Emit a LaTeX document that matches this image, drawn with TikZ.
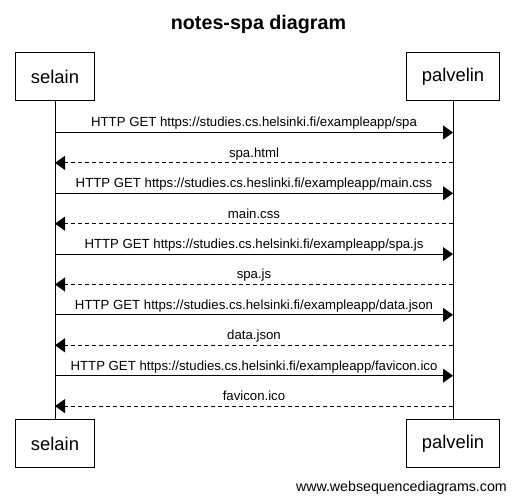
\documentclass[tikz,border=0pt]{standalone}
\usepackage{fontspec}
\setmainfont{Liberation Sans}
\usetikzlibrary{positioning,arrows.meta}

\begin{document}
\begin{tikzpicture}[x=1pt,y=-1pt,
  every node/.style={font=\fontsize{13.2}{15}\selectfont},
  actor/.style={draw,fill=white,line width=1pt,minimum height=48pt,inner xsep=15pt,font=\fontsize{18.4}{22}\selectfont},
  life/.style={line width=1pt},
  req/.style={-{Triangle[length=10pt,width=14pt]},line width=1pt},
  rep/.style={req,dash pattern=on 4pt off 3pt},
  msg/.style={midway,above,inner sep=2pt,text depth=3pt}
]
\useasboundingbox (0,0) rectangle (515,502);
\node[font=\fontsize{19.7}{23}\selectfont\bfseries] (title) at (258.5,24) {notes-spa diagram};
% osapuolet
\node[actor] (st) at (55,77) {selain};
\node[actor] (pt) at (453,77) {palvelin};
\node[actor,below=318pt of st] (sb) {selain};
\node[actor,below=318pt of pt] (pb) {palvelin};
\draw[life] (st) -- (sb);
\draw[life] (pt) -- (pb);
% viestien kohdat elamanviivoilla
\foreach \i/\y in {1/132.5,2/162.9,3/193.3,4/223.7,5/254.1,6/284.5,7/314.9,8/345.3,9/375.7,10/406.1}
  {\coordinate (s\i) at (55,\y); \coordinate (p\i) at (453,\y);}
\draw[req] (s1) -- node[msg] {HTTP GET https://studies.cs.helsinki.fi/exampleapp/spa} (p1);
\draw[rep] (p2) -- node[msg] {spa.html} (s2);
\draw[req] (s3) -- node[msg] {HTTP GET https://studies.cs.heslinki.fi/exampleapp/main.css} (p3);
\draw[rep] (p4) -- node[msg] {main.css} (s4);
\draw[req] (s5) -- node[msg] {HTTP GET https://studies.cs.helsinki.fi/exampleapp/spa.js} (p5);
\draw[rep] (p6) -- node[msg] {spa.js} (s6);
\draw[req] (s7) -- node[msg] {HTTP GET https://studies.cs.helsinki.fi/exampleapp/data.json} (p7);
\draw[rep] (p8) -- node[msg] {data.json} (s8);
\draw[req] (s9) -- node[msg] {HTTP GET https://studies.cs.helsinki.fi/exampleapp/favicon.ico} (p9);
\draw[rep] (p10) -- node[msg] {favicon.ico} (s10);
\node[anchor=base east,inner sep=0pt,font=\fontsize{14.2}{16}\selectfont] (www) at (507,492) {www.websequencediagrams.com};
\end{tikzpicture}
\end{document}
